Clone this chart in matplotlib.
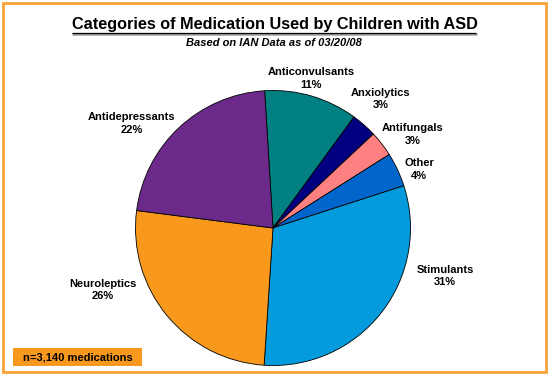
import matplotlib
matplotlib.use("Agg")
import matplotlib.pyplot as plt
from matplotlib.patches import Rectangle

categories = ["Anticonvulsants", "Anxiolytics", "Antifungals", "Other",
              "Stimulants", "Neuroleptics", "Antidepressants"]
values = [11, 3, 3, 4, 31, 26, 22]
colors = ["#008080", "#000080", "#FF8080", "#0066CC",
          "#049BDC", "#F8981D", "#6B2A8A"]
label_pos = [(311, 78.5), (381, 99), (413, 134.5), (419, 169.5),
             (445, 276), (103, 290), (132, 123.5)]

W, H = 550, 376
fig = plt.figure(figsize=(W / 100, H / 100), dpi=100)
fig.patch.set_facecolor("white")

# outer border
bg = fig.add_axes([0, 0, 1, 1])
bg.set_xlim(0, W)
bg.set_ylim(H, 0)
bg.axis("off")
bg.add_patch(Rectangle((3, 3), 542.5, 368.5, fill=False, edgecolor="#F7A23A", lw=2))

# title
bg.text(274.5, 24.5, "Categories of Medication Used by Children with ASD",
        ha="center", va="center", fontsize=11.7, fontweight="bold",
        family="Liberation Sans", color="black")
bg.plot([72, 477], [34.2, 34.2], color="#A0A0A0", lw=1.8, solid_capstyle="butt")
bg.plot([72, 476], [33.0, 33.0], color="black", lw=0.9, solid_capstyle="butt")
bg.text(274, 42.5, "Based on IAN Data as of 03/20/08", ha="center", va="center",
        fontsize=8, fontweight="bold", style="italic", family="Liberation Sans")

# n box
bg.add_patch(Rectangle((13, 348), 129, 17.5, facecolor="#F8981D", edgecolor="none"))
bg.text(23, 357, "n=3,140 medications", ha="left", va="center",
        fontsize=8, fontweight="bold", family="Liberation Sans")

# pie
cx, cy, r = 273, 228, 137.5
ax = fig.add_axes([(cx - r) / W, 1 - (cy + r) / H, 2 * r / W, 2 * r / H])
ax.pie(values, colors=colors, startangle=93.5, counterclock=False,
       wedgeprops=dict(edgecolor="black", linewidth=0.6))
ax.set_aspect("auto")
ax.set_xlim(-1, 1)
ax.set_ylim(-1, 1)
ax.axis("off")

for cat, v, (x, y) in zip(categories, values, label_pos):
    bg.text(x, y, f"{cat}\n{v}%", ha="center", va="center", fontsize=8,
            fontweight="bold", family="Liberation Sans", linespacing=1.35)

fig.savefig("out.png", dpi=100)
